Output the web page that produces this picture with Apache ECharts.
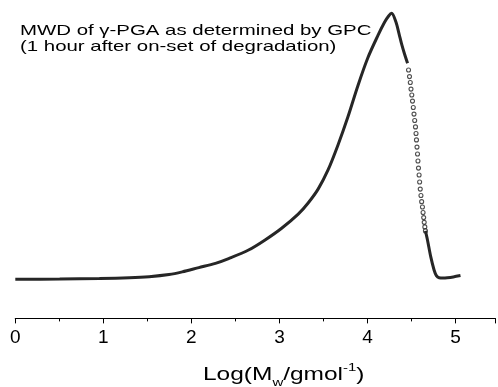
<!DOCTYPE html>
<html>
<head>
<meta charset="utf-8">
<script src="https://cdn.jsdelivr.net/npm/echarts@6/dist/echarts.min.js"></script>
<style>html,body{margin:0;padding:0;background:#fff}#c{width:498px;height:387px}</style>
</head>
<body>
<div id="c"></div>
<script>
// Rising part + peak + shoulder (dense, overlapping markers)
const riseX = [0.000, 0.504, 0.956, 1.295, 1.520, 1.746, 1.896, 2.084, 2.273, 2.423, 2.649, 2.837, 3.025, 3.213, 3.326, 3.439, 3.552, 3.665, 3.777, 3.890, 4.003, 4.116, 4.195, 4.240, 4.274, 4.323, 4.359, 4.387, 4.418, 4.455];
const riseY = [0.000, 0.001, 0.003, 0.006, 0.010, 0.018, 0.028, 0.044, 0.060, 0.078, 0.110, 0.148, 0.192, 0.245, 0.287, 0.339, 0.411, 0.505, 0.610, 0.727, 0.832, 0.915, 0.967, 0.990, 1.000, 0.967, 0.922, 0.885, 0.850, 0.812];
// Steep fall (sparse, individually visible markers)
const fallX = [4.466, 4.477, 4.486, 4.494, 4.503, 4.511, 4.520, 4.528, 4.536, 4.545, 4.551, 4.556, 4.562, 4.568, 4.573, 4.579, 4.586, 4.592, 4.599, 4.607, 4.615, 4.624, 4.631, 4.638, 4.644, 4.651, 4.658];
const fallY = [0.787, 0.762, 0.740, 0.715, 0.693, 0.670, 0.646, 0.621, 0.597, 0.573, 0.548, 0.524, 0.497, 0.471, 0.445, 0.418, 0.392, 0.366, 0.339, 0.315, 0.292, 0.272, 0.251, 0.232, 0.214, 0.197, 0.182];
// Tail (dense again)
const tailX = [4.658, 4.681, 4.718, 4.756, 4.782, 4.813, 4.861, 4.906, 4.974, 5.056];
const tailY = [0.182, 0.148, 0.085, 0.035, 0.014, 0.006, 0.005, 0.006, 0.009, 0.014];
const tickLabels = ['0', '1', '2', '3', '4', '5'];

const pairs = (xs, ys) => xs.map((x, i) => [x, ys[i]]);
const FONT = 'Liberation Sans, Arial, sans-serif';
const SX = 1.36;

const chart = echarts.init(document.getElementById('c'), null, {renderer: 'canvas'});
chart.setOption({
  animation: false,
  grid: {left: 15.3, right: 0, top: 0, bottom: 68.6, containLabel: false},
  xAxis: [
    {
      type: 'value', min: 0, max: 5.448, interval: 0.5, position: 'bottom',
      axisLine: {show: true, onZero: false, lineStyle: {color: '#000', width: 1}},
      axisTick: {show: true, inside: false, length: 3, lineStyle: {color: '#000', width: 1}},
      axisLabel: {show: false}, splitLine: {show: false}
    },
    {
      type: 'value', min: 0, max: 5.448, interval: 1, position: 'bottom',
      axisLine: {show: true, onZero: false, lineStyle: {color: '#000', width: 1}},
      axisTick: {show: true, inside: false, length: 5, lineStyle: {color: '#000', width: 1}},
      axisLabel: {
        show: true, margin: 10, color: '#000', fontSize: 19, fontFamily: FONT,
        formatter: v => (Math.abs(v - Math.round(v)) < 1e-9 && tickLabels[Math.round(v)] !== undefined) ? tickLabels[Math.round(v)] : ''
      },
      splitLine: {show: false}
    }
  ],
  yAxis: {type: 'value', min: -0.147, max: 1.05, show: false},
  series: [
    {
      name: 'rise', type: 'line', xAxisIndex: 1, data: pairs(riseX, riseY),
      smooth: 0.3, showSymbol: false, symbol: 'none',
      lineStyle: {color: '#262626', width: 3}
    },
    {
      name: 'fall', type: 'scatter', xAxisIndex: 1, data: pairs(fallX, fallY),
      symbol: 'circle', symbolSize: 4,
      itemStyle: {color: '#fff', borderColor: '#222', borderWidth: 1.1}
    },
    {
      name: 'tail', type: 'line', xAxisIndex: 1, data: pairs(tailX, tailY),
      smooth: 0.3, showSymbol: false, symbol: 'none',
      lineStyle: {color: '#262626', width: 3}
    }
  ],
  graphic: [
    {
      type: 'text', x: 20, y: 30.5, scaleX: SX,
      style: {text: 'MWD of γ-PGA as determined by GPC', font: '15px ' + FONT, fill: '#000', textAlign: 'left', textVerticalAlign: 'middle'}
    },
    {
      type: 'text', x: 20, y: 46.5, scaleX: SX,
      style: {text: '(1 hour after on-set of degradation)', font: '15px ' + FONT, fill: '#000', textAlign: 'left', textVerticalAlign: 'middle'}
    },
    {
      type: 'text', x: 203, y: 375, scaleX: SX,
      style: {
        text: '{a|Log(M}{sub|w}{a|/gmol}{sup|-1}{a|)}',
        textAlign: 'left', textVerticalAlign: 'middle',
        rich: {
          a: {fontSize: 18, fontFamily: FONT, fill: '#000', color: '#000', lineHeight: 26, verticalAlign: 'middle'},
          sub: {fontSize: 11, fontFamily: FONT, fill: '#000', color: '#000', lineHeight: 26, verticalAlign: 'bottom'},
          sup: {fontSize: 11, fontFamily: FONT, fill: '#000', color: '#000', lineHeight: 26, verticalAlign: 'top'}
        }
      }
    }
  ]
});
</script>
</body>
</html>
